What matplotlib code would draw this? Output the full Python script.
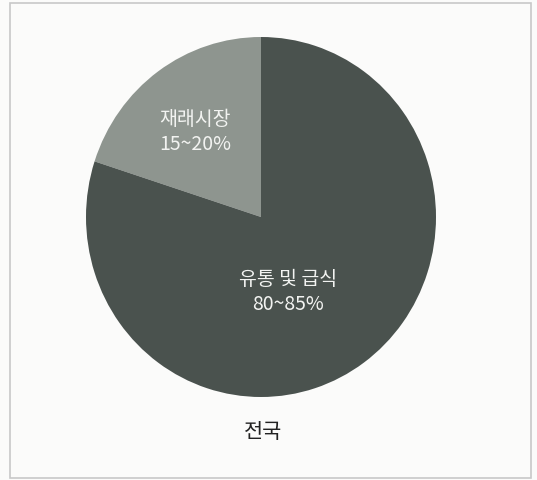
import matplotlib
matplotlib.use("Agg")
import matplotlib.pyplot as plt
from matplotlib.patches import Rectangle

plt.rcParams['font.family'] = ['Noto Sans CJK KR', 'DejaVu Sans']

categories = ['재래시장', '유통 및 급식']
shares = [20, 80]
share_labels = ['15~20%', '80~85%']
title = '전국'
colors = ['#8e958f', '#4a524e']

fig = plt.figure(figsize=(5.37, 4.80), dpi=100)
fig.patch.set_facecolor('#fbfbfa')
fig.patches.append(Rectangle((10/537, 2/480), 521/537, 475/480, transform=fig.transFigure,
                             fill=False, edgecolor='#c8c8c8', linewidth=1.2))

ax = fig.add_axes([86/537, 83/480, 350/537, 360/480])
ax.pie(shares, colors=colors, startangle=90, counterclock=True,
       wedgeprops=dict(linewidth=0))
ax.set_aspect('auto')
ax.set_xlim(-1, 1)
ax.set_ylim(-1, 1)

label_pos = [(-0.377, 0.472), (0.154, -0.417)]
for (x, y), cat, lab in zip(label_pos, categories, share_labels):
    ax.text(x, y, f'{cat}\n{lab}', ha='center', va='center', color='#f2f3f1',
            fontsize=14, linespacing=1.2)

fig.text(263/537, 1 - 432/480, title, ha='center', va='center', color='#222222', fontsize=15)

fig.savefig('out.png', dpi=100, facecolor=fig.get_facecolor())
